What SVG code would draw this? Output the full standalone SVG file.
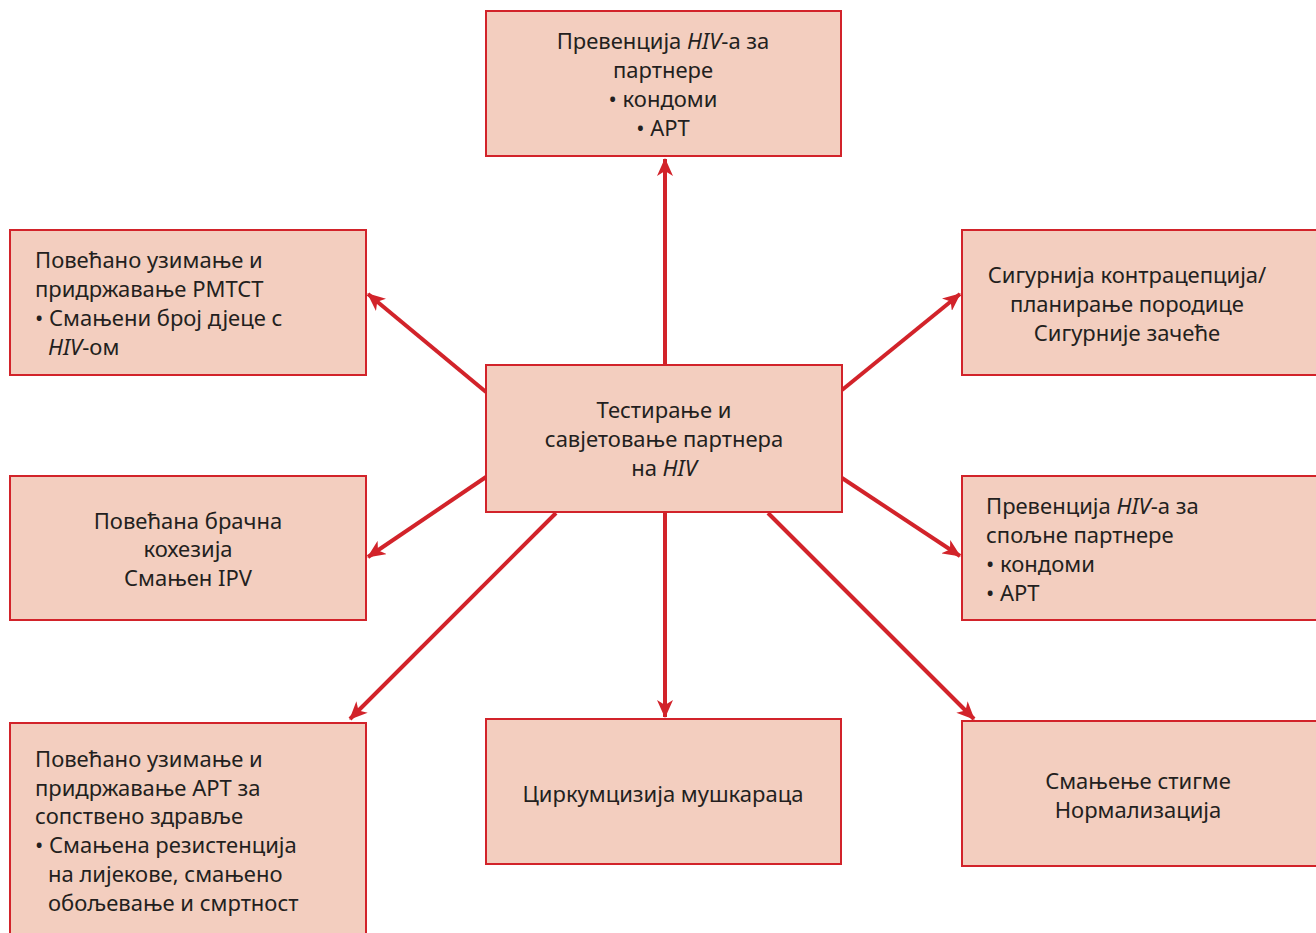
<svg xmlns="http://www.w3.org/2000/svg" width="1316" height="933" viewBox="0 0 1316 933">
<defs>
<style>
.box{fill:#f3cebf;stroke:#d2232a;stroke-width:2}
.t{font-family:"Noto Sans","Liberation Sans",sans-serif;font-size:22px;fill:#231f20}
.c{text-anchor:middle}
.con{stroke:#d2232a;stroke-width:4;fill:none;marker-end:url(#ah)}
</style>
<marker id="ah" viewBox="0 0 18 16" refX="17" refY="8" markerWidth="18" markerHeight="16" markerUnits="userSpaceOnUse" orient="auto">
<path d="M0,0 L18,8 L0,16 L5,8 Z" fill="#d2232a"/>
</marker>
</defs>
<rect width="1316" height="933" fill="#fff"/>
<g id="connectors">
<line class="con" x1="665" y1="365" x2="665" y2="159"/>
<line class="con" x1="486" y1="392" x2="368" y2="294"/>
<line class="con" x1="842" y1="390" x2="960" y2="294"/>
<line class="con" x1="486" y1="477" x2="368" y2="557"/>
<line class="con" x1="842" y1="478" x2="960" y2="556"/>
<line class="con" x1="556" y1="513" x2="350" y2="719"/>
<line class="con" x1="665" y1="513" x2="665" y2="717"/>
<line class="con" x1="768" y1="513" x2="974" y2="719"/>
</g>
<g id="top">
<rect class="box" x="486" y="11" width="355" height="145"/>
<text class="t c" x="663" y="49">Превенција <tspan font-style="italic">HIV</tspan>-а за</text>
<text class="t c" x="663" y="78">партнере</text>
<text class="t c" x="663" y="107">• кондоми</text>
<text class="t c" x="663" y="136">• АРТ</text>
</g>
<g id="left1">
<rect class="box" x="10" y="230" width="356" height="145"/>
<text class="t" x="35" y="268">Повећано узимање и</text>
<text class="t" x="35" y="297">придржавање PMTCT</text>
<text class="t" x="35" y="326">• Смањени број дјеце с</text>
<text class="t" x="48" y="355"><tspan font-style="italic">HIV</tspan>-ом</text>
</g>
<g id="right1">
<rect class="box" x="962" y="230" width="356" height="145"/>
<text class="t c" x="1127" y="283">Сигурнија контрацепција/</text>
<text class="t c" x="1127" y="312">планирање породице</text>
<text class="t c" x="1127" y="341">Сигурније зачеће</text>
</g>
<g id="center">
<rect class="box" x="486" y="365" width="356" height="147"/>
<text class="t c" x="664" y="418">Тестирање и</text>
<text class="t c" x="664" y="447">савјетовање партнера</text>
<text class="t c" x="664" y="476">на <tspan font-style="italic">HIV</tspan></text>
</g>
<g id="left2">
<rect class="box" x="10" y="476" width="356" height="144"/>
<text class="t c" x="188" y="529">Повећана брачна</text>
<text class="t c" x="188" y="557">кохезија</text>
<text class="t c" x="188" y="586">Смањен IPV</text>
</g>
<g id="right2">
<rect class="box" x="962" y="476" width="356" height="144"/>
<text class="t" x="986" y="514">Превенција <tspan font-style="italic">HIV</tspan>-а за</text>
<text class="t" x="986" y="543">спољне партнере</text>
<text class="t" x="986" y="572">• кондоми</text>
<text class="t" x="986" y="601">• АРТ</text>
</g>
<g id="bottomleft">
<rect class="box" x="10" y="723" width="356" height="220"/>
<text class="t" x="35" y="767">Повећано узимање и</text>
<text class="t" x="35" y="796">придржавање АРТ за</text>
<text class="t" x="35" y="824">сопствено здравље</text>
<text class="t" x="35" y="853">• Смањена резистенција</text>
<text class="t" x="48" y="882">на лијекове, смањено</text>
<text class="t" x="48" y="911">обољевање и смртност</text>
</g>
<g id="bottommid">
<rect class="box" x="486" y="719" width="355" height="145"/>
<text class="t c" x="663" y="802">Циркумцизија мушкараца</text>
</g>
<g id="bottomright">
<rect class="box" x="962" y="721" width="356" height="145"/>
<text class="t c" x="1138" y="789">Смањење стигме</text>
<text class="t c" x="1138" y="818">Нормализација</text>
</g>
</svg>
